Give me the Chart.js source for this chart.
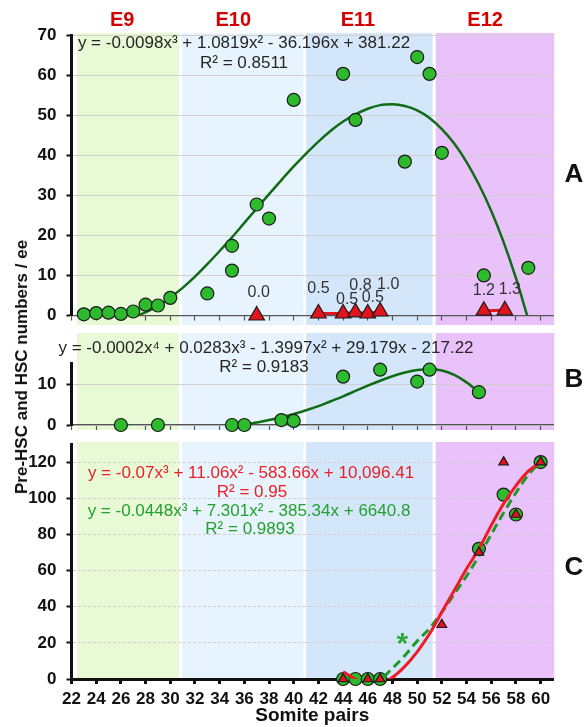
<!DOCTYPE html>
<html>
<head>
<meta charset="utf-8">
<title>Pre-HSC and HSC numbers by somite pairs</title>
<script src="https://cdn.jsdelivr.net/npm/chart.js@4.4.1/dist/chart.umd.min.js"></script>
<style>
  body { margin: 0; background: #fff; }
  #figure { position: relative; width: 584px; height: 727px; overflow: hidden; }
  #figure canvas { position: absolute; left: 0; }
  #yTitle {
    position: absolute; left: 22px; top: 367px;
    transform: translate(-50%, -50%) rotate(-90deg);
    font: bold 17px "Liberation Sans", Arial, sans-serif;
    color: #111; white-space: nowrap;
  }
</style>
</head>
<body>
<div id="figure">
  <canvas id="chartA" width="584" height="330" style="top:0px"></canvas>
  <canvas id="chartB" width="584" height="105" style="top:330px"></canvas>
  <canvas id="chartC" width="584" height="292" style="top:435px"></canvas>
  <div id="yTitle">Pre-HSC and HSC numbers / ee</div>
</div>
<script>
const FONT = '"Liberation Sans", Arial, sans-serif';

// x axis (somite pairs)
const somiteTicks = [22, 24, 26, 28, 30, 32, 34, 36, 38, 40, 42, 44, 46, 48, 50, 52, 54, 56, 58, 60];

// embryonic day ranges shaded behind the panels
const stageNames = ['E9', 'E10', 'E11', 'E12'];
const stageFrom = [22.45, 30.95, 41.0, 51.5];
const stageTo = [30.7, 40.8, 51.25, 61.1];
const stageLabelAt = [26.1, 35.1, 45.2, 55.5];

// panel A
const aTicks = [0, 10, 20, 30, 40, 50, 60, 70];
const aCellX = [23, 24, 25, 26, 27, 28, 29, 30, 33, 35, 35, 37, 38, 40, 44, 45, 49, 50, 51, 52, 55.4, 59];
const aCellY = [0.3, 0.6, 0.7, 0.4, 1.0, 2.7, 2.5, 4.4, 5.5, 17.4, 11.2, 27.7, 24.2, 53.8, 60.3, 48.8, 38.4, 64.5, 60.3, 40.6, 10.0, 11.9];
const aHscX = [37, 42, 44, 45, 46, 47, 55.4, 57.1];
const aHscY = [0.0, 0.5, 0.5, 0.8, 0.5, 1.0, 1.2, 1.3];
const aFitX = [23, 24, 25, 26, 27, 28, 29, 30, 31, 32, 33, 34, 35, 36, 37, 38, 39, 40, 41, 42, 43, 44, 45, 46, 47, 48, 49, 50, 51, 52, 53, 54, 55, 56, 57, 58, 59];
const aFitY = [1.8, 0.2, -0.6, -0.8, -0.3, 0.8, 2.4, 4.5, 6.9, 9.7, 12.8, 16.1, 19.5, 23.1, 26.7, 30.3, 33.8, 37.2, 40.4, 43.4, 46.1, 48.4, 50.2, 51.6, 52.5, 52.7, 52.3, 51.2, 49.3, 46.5, 42.9, 38.3, 32.7, 26.1, 18.3, 9.3, -1.0];

// panel B
const bTicks = [0, 10];
const bCellX = [26, 29, 35, 36, 39, 40, 44, 47, 50, 51, 55];
const bCellY = [0, 0, 0, 0, 1.2, 1.0, 11.8, 13.5, 10.6, 13.5, 8.0];
const bFitX = [26, 27, 28, 30, 32, 34, 35, 36, 37, 38, 39, 40, 41, 42, 43, 44, 45, 46, 47, 48, 49, 50, 51, 52, 53, 54, 55];
const bFitY = [0.3, -0.3, -0.9, -1.8, -2.0, -1.3, -0.7, 0.0, 0.6, 1.2, 1.9, 2.7, 3.6, 4.6, 5.8, 7.0, 8.3, 9.6, 10.8, 11.9, 12.8, 13.4, 13.6, 13.3, 12.2, 10.4, 8.0];

// panel C
const cTicks = [0, 20, 40, 60, 80, 100, 120];
const cCellX = [44, 45, 46, 47, 55, 57, 58, 60];
const cCellY = [0, 0, 0, 0, 72, 102, 91, 120];
const cHscX = [44, 46, 47, 52, 55, 57, 58, 60];
const cHscY = [0, 0, 0, 30, 70, 120, 91, 120];
const cHscFitX = [44, 45, 46, 47, 48, 49, 50, 51, 52, 53, 54, 55, 56, 57, 58, 59, 60];
const cHscFitY = [4, 0, -2, -2, 1, 7, 15, 25, 37, 49, 61, 72, 85, 97, 107, 115, 120];
const cCellFitX = [44, 45, 46, 47, 48, 49, 50, 51, 52, 53, 54, 55, 56, 57, 58, 59, 60];
const cCellFitY = [1, -1, -1, 0, 6, 13, 21, 28, 37, 47, 57, 68, 80, 92, 103, 113, 120];

// colours
const STAGE_FILL = ['#e7f9d5', '#e7f4fd', '#d4e6fa', '#e9c1fb'];
const DOT_GREEN = '#2dbb2d';
const FIT_GREEN = '#106b14';
const RED = '#e3141c';
const OUTLINE = '#1b1b1b';

function points(xs, ys) {
    return xs.map((x, i) => ({ x: x, y: ys[i] }));
}

// shaded E9..E12 columns
function bandsPlugin(above, below) {
    return {
        id: 'stageBands',
        beforeDraw(chart) {
            const { ctx, chartArea, scales } = chart;
            ctx.save();
            stageFrom.forEach((from, i) => {
                const x0 = scales.x.getPixelForValue(from);
                const x1 = scales.x.getPixelForValue(stageTo[i]);
                ctx.fillStyle = STAGE_FILL[i];
                ctx.fillRect(x0, chartArea.top - above, x1 - x0, chartArea.bottom - chartArea.top + above + below);
            });
            ctx.restore();
        }
    };
}

// free text: equations, panel letters...
function notesPlugin(items) {
    return {
        id: 'notes',
        afterDraw(chart) {
            const { ctx, scales } = chart;
            ctx.save();
            ctx.textAlign = 'center';
            ctx.textBaseline = 'middle';
            items.forEach(t => {
                const x = t.xv !== undefined ? scales.x.getPixelForValue(t.xv) : t.x;
                const y = t.yv !== undefined ? scales.y.getPixelForValue(t.yv) + (t.dy || 0) : t.y;
                ctx.font = t.font;
                ctx.fillStyle = t.color;
                ctx.fillText(t.text, x, y);
            });
            ctx.restore();
        }
    };
}

// value labels above the HSC triangles of panel A
const hscLabelShift = [[2, -23], [0, -25], [4, -14], [5, -27], [5, -16], [8, -27], [0, -20], [5, -21]];
const hscLabels = {
    id: 'hscLabels',
    afterDatasetsDraw(chart) {
        const ctx = chart.ctx;
        const meta = chart.getDatasetMeta(2);
        ctx.save();
        ctx.font = '16px ' + FONT;
        ctx.fillStyle = '#333';
        ctx.textAlign = 'center';
        ctx.textBaseline = 'middle';
        meta.data.forEach((pt, i) => {
            ctx.fillText(aHscY[i].toFixed(1), pt.x + hscLabelShift[i][0], pt.y + hscLabelShift[i][1]);
        });
        ctx.restore();
    }
};

function somiteAxis(showLabels, height, lineColor, lineWidth) {
    return {
        type: 'linear',
        min: 22,
        max: 61,
        afterBuildTicks: axis => { axis.ticks = somiteTicks.map(v => ({ value: v })); },
        afterFit: axis => {
            axis.height = height;
            axis.paddingLeft = 0;
            axis.paddingRight = 0;
        },
        ticks: {
            display: showLabels, autoSkip: false, maxRotation: 0, padding: 5, color: '#111',
            font: { family: FONT, size: 17, weight: 'bold' }
        },
        grid: { drawOnChartArea: false, drawTicks: true, tickLength: 5, tickColor: lineColor, tickWidth: lineWidth },
        border: { color: lineColor, width: lineWidth },
        title: {
            display: showLabels, text: 'Somite pairs', color: '#111',
            font: { family: FONT, size: 19, weight: 'bold' }, padding: { top: 0, bottom: 0 }
        }
    };
}

function countAxis(max, ticks, dashed) {
    return {
        type: 'linear',
        min: 0,
        max: max,
        afterBuildTicks: axis => { axis.ticks = ticks.map(v => ({ value: v })); },
        afterFit: axis => {
            // fixed axis width, and no extra room reserved for the end labels
            axis.width = 71.5;
            axis.paddingTop = 0;
            axis.paddingBottom = 0;
        },
        ticks: { padding: 10, color: '#111', font: { family: FONT, size: 17, weight: 'bold' } },
        grid: { color: '#d0d0d0', lineWidth: 1, drawTicks: true, tickLength: 5, tickColor: '#111', tickWidth: 2 },
        border: { color: '#111', width: 3, dash: dashed ? [3, 2] : [] }
    };
}

function baseOptions(padTop, xAxis, yAxis) {
    return {
        responsive: false,
        animation: false,
        devicePixelRatio: 1,
        events: [],
        layout: { padding: { top: padTop, right: 31, bottom: 0, left: 0 } },
        plugins: { legend: { display: false }, tooltip: { enabled: false } },
        scales: { x: xAxis, y: yAxis }
    };
}

const EQ_FONT = '17px ' + FONT;

// ---- panel A ----
new Chart(document.getElementById('chartA'), {
    type: 'scatter',
    data: {
        datasets: [
            {
                label: 'Pre-HSC fit', data: points(aFitX, aFitY), showLine: true, pointRadius: 0,
                borderColor: FIT_GREEN, borderWidth: 2.5, cubicInterpolationMode: 'monotone', clip: 0, order: 3
            },
            {
                label: 'Pre-HSC', data: points(aCellX, aCellY), pointRadius: 6.5,
                pointBackgroundColor: DOT_GREEN, pointBorderColor: OUTLINE, pointBorderWidth: 1.2, clip: false, order: 2
            },
            {
                label: 'HSC', data: points(aHscX, aHscY), showLine: true, borderColor: RED, borderWidth: 3,
                segment: { borderColor: s => (s.p1.parsed.x - s.p0.parsed.x > 3 ? 'rgba(0,0,0,0)' : RED) },
                pointStyle: 'triangle', pointRadius: 9, pointBackgroundColor: RED,
                pointBorderColor: OUTLINE, pointBorderWidth: 1.2, clip: false, order: 1
            }
        ]
    },
    options: baseOptions(35, somiteAxis(false, 14.5, '#555', 1.2), countAxis(70, aTicks, false)),
    plugins: [
        bandsPlugin(2, 9.5),
        hscLabels,
        notesPlugin([
            ...stageNames.map((s, i) => ({ text: s, xv: stageLabelAt[i], y: 20, font: 'bold 20px ' + FONT, color: '#d40000' })),
            { text: 'y = -0.0098x³ + 1.0819x² - 36.196x + 381.22', x: 244, y: 43, font: EQ_FONT, color: '#262626' },
            { text: 'R² = 0.8511', x: 244, y: 63, font: EQ_FONT, color: '#262626' },
            { text: 'A', x: 574, y: 175, font: 'bold 26px ' + FONT, color: '#111' }
        ])
    ]
});

// ---- panel B ----
new Chart(document.getElementById('chartB'), {
    type: 'scatter',
    data: {
        datasets: [
            {
                label: 'fit', data: points(bFitX, bFitY), showLine: true, pointRadius: 0,
                borderColor: FIT_GREEN, borderWidth: 2.5, cubicInterpolationMode: 'monotone', clip: 0, order: 2
            },
            {
                label: 'cells', data: points(bCellX, bCellY), pointRadius: 6.5,
                pointBackgroundColor: DOT_GREEN, pointBorderColor: OUTLINE, pointBorderWidth: 1.2, clip: false, order: 1
            }
        ]
    },
    options: baseOptions(33.5, somiteAxis(false, 10, '#555', 1.2), countAxis(15, bTicks, false)),
    plugins: [
        bandsPlugin(30.5, 5),
        notesPlugin([
            { text: 'y = -0.0002x⁴ + 0.0283x³ - 1.3997x² + 29.179x - 217.22', x: 266, y: 18, font: EQ_FONT, color: '#262626' },
            { text: 'R² = 0.9183', x: 264, y: 37, font: EQ_FONT, color: '#262626' },
            { text: 'B', x: 574, y: 50, font: 'bold 26px ' + FONT, color: '#111' }
        ])
    ]
});

// ---- panel C ----
new Chart(document.getElementById('chartC'), {
    type: 'scatter',
    data: {
        datasets: [
            {
                label: 'Pre-HSC', data: points(cCellX, cCellY), pointRadius: 6.5,
                pointBackgroundColor: DOT_GREEN, pointBorderColor: OUTLINE, pointBorderWidth: 1.2, clip: false, order: 4
            },
            {
                label: 'Pre-HSC fit', data: points(cCellFitX, cCellFitY), showLine: true, pointRadius: 0,
                borderColor: '#1f9a2a', borderWidth: 3, borderDash: [9, 5], cubicInterpolationMode: 'monotone', clip: 0, order: 3
            },
            {
                label: 'HSC fit', data: points(cHscFitX, cHscFitY), showLine: true, pointRadius: 0,
                borderColor: '#ee1c25', borderWidth: 3, cubicInterpolationMode: 'monotone', clip: 0, order: 2
            },
            {
                label: 'HSC', data: points(cHscX, cHscY), pointStyle: 'triangle', pointRadius: 5.5,
                pointBackgroundColor: RED, pointBorderColor: OUTLINE, pointBorderWidth: 1.2, clip: false, order: 1
            }
        ]
    },
    options: baseOptions(9, somiteAxis(true, 48, '#111', 3), countAxis(130, cTicks, true)),
    plugins: [
        bandsPlugin(2, 0),
        notesPlugin([
            { text: 'y = -0.07x³ + 11.06x² - 583.66x + 10,096.41', x: 251, y: 38, font: EQ_FONT, color: '#ea2027' },
            { text: 'R² = 0.95', x: 252, y: 57, font: EQ_FONT, color: '#ea2027' },
            { text: 'y = -0.0448x³ + 7.301x² - 385.34x + 6640.8', x: 249, y: 76, font: EQ_FONT, color: '#23a030' },
            { text: 'R² = 0.9893', x: 250, y: 94, font: EQ_FONT, color: '#23a030' },
            { text: '*', xv: 48.8, yv: 22.7, dy: 7, font: 'bold 30px ' + FONT, color: '#2eaa3c' },
            { text: 'C', x: 574, y: 133, font: 'bold 26px ' + FONT, color: '#111' }
        ])
    ]
});
</script>
</body>
</html>
